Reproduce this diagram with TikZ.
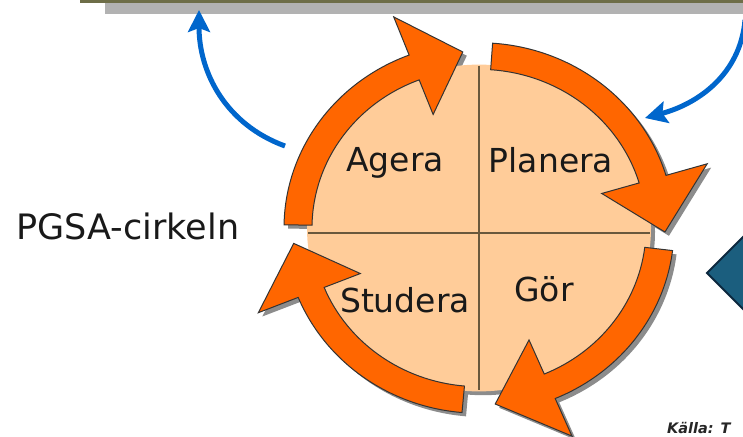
\documentclass[tikz,border=0pt]{standalone}
\usepackage{fontspec}
\setmainfont{DejaVu Sans}
\usetikzlibrary{positioning}
\usetikzlibrary{arrows.meta}
\usetikzlibrary{calc}

\definecolor{ringorange}{RGB}{255,102,0}
\definecolor{peach}{RGB}{255,204,153}
\definecolor{loopblue}{RGB}{0,102,204}
\definecolor{boxteal}{RGB}{27,94,126}
\definecolor{boxnavy}{RGB}{12,40,62}
\definecolor{olivebar}{RGB}{110,110,72}
\definecolor{divider}{RGB}{105,88,60}

\begin{document}
\begin{tikzpicture}[x=1pt, y=1pt,
  ringarrow/.style={fill=ringorange, draw=black!80, line width=1pt},
  ringshadow/.style={fill=black!45},
  phase/.style={font=\fontsize{33}{40}\selectfont, text=black!90, anchor=base, inner sep=0pt},
  loop/.style={loopblue, line width=5pt, -{Stealth[length=22pt, width=22pt, inset=4pt]}}]

	\useasboundingbox (0,0) rectangle (743,436);
	\clip (0,0) rectangle (743,436);

	% lower edge of the box above
	\fill[black!30] (105,422) rectangle (743,433);
	\fill[olivebar] (80,433) rectangle (743,437);

	% radii of the ring
	\def\rin{167}
	\def\rout{195}
	\def\rtip{186}
	\def\hin{128}
	\def\hout{238}

	\begin{scope}[shift={(479,208)}, yscale=0.95]
	  % shadows first
	  \fill[ringshadow] (4,-4) circle[radius=172];
	  \foreach \s/\b/\t in {179/111/95, 86/16.5/-1.3, -7/-67/-85, 265/202/185} {
	    \fill[ringshadow, shift={(4,-4)}] (\s:\rout) arc[start angle=\s, end angle=\b, radius=\rout]
	      -- (\b:\hout) -- (\t:\rtip) -- (\b:\hin) -- (\b:\rin)
	      arc[start angle=\b, end angle=\s, radius=\rin] -- cycle;
	  }

	  % disk and its quarters
	  \fill[peach] (0,0) circle[radius=172];
	  \draw[divider, line width=2pt] (90:171) -- (270:171);
	  \draw[divider, line width=2pt] ([yshift=-5pt]180:171) -- ([yshift=-5pt]0:171);

	  % the four arrows
	  \foreach \s/\b/\t in {179/111/95, 86/16.5/-1.3, -7/-67/-85, 265/202/185} {
	    \draw[ringarrow] (\s:\rout) arc[start angle=\s, end angle=\b, radius=\rout]
	      -- (\b:\hout) -- (\t:\rtip) -- (\b:\hin) -- (\b:\rin)
	      arc[start angle=\b, end angle=\s, radius=\rin] -- cycle;
	  }
	\end{scope}

	\node[phase] (agera) at (395,264) {Agera};
	\node[phase] (planera) at (551,263) {Planera};
	\node[phase] (studera) at (405,123) {Studera};
	\node[phase] (gor) at (544,134) {Gör};

	\node[anchor=base, inner sep=0pt, font=\fontsize{35}{42}\selectfont, text=black!90] (title) at (128,196) {PGSA-cirkeln};

	% blue loops to the box
	\coordinate (leftfoot) at (285,290);
	\coordinate (lefttop) at (199,426);
	\coordinate (righttop) at (745,416);
	\coordinate (rightfoot) at (645,318);
	\draw[loop] (leftfoot) to[out=160, in=-90] (lefttop);
	\draw[loop] (righttop) to[out=-95, in=15] (rightfoot);

	% diamond at the right edge
	\draw[fill=boxteal, draw=boxnavy, line width=2pt] (707,163) -- (750,206) -- (793,163) -- (750,120) -- cycle;

	\node[anchor=base west, inner sep=0pt, font=\fontsize{14.5}{17}\selectfont\bfseries\itshape, text=black!85] (source) at (667,3) {Källa: T};
\end{tikzpicture}
\end{document}
